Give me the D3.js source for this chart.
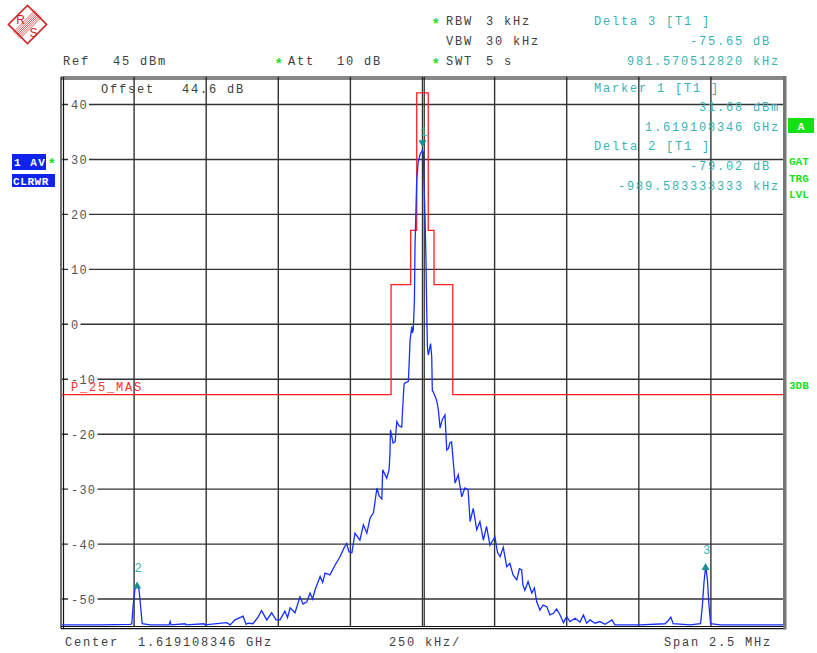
<!DOCTYPE html>
<html>
<head>
<script src="https://d3js.org/d3.v7.min.js"></script>
<style>
  body { margin: 0; background: #fff; }
  text { font-family: "Liberation Mono", "DejaVu Sans Mono", monospace; }
</style>
</head>
<body>
<svg id="chart" width="817" height="653"></svg>
<script>
// trace: frequency offset from center (kHz) and level (dBm)
var traceFreq = [-1250,-1118,-1014,-1008,-1003,-997,-990,-983,-978,-972,-945,-879,-875,-872,-823,-821,-757,-755,-679,-667,-650,-622,-612,-605,-588,-570,-558,-540,-523,-508,-494,-477,-468,-459,-442,-425,-414,-401,-390,-381,-373,-355,-346,-338,-321,-303,-286,-272,-263,-255,-245,-234,-217,-205,-193,-182,-170,-158,-150,-141,-138,-124,-116,-113,-111,-102,-95,-89,-81,-72,-69,-64,-61,-49,-46,-43,-37,-35,-32,-28,-26,-20,-15,-8,0,3,5,9,12,14,17,20,28,32,34,37,49,55,61,68,78,84,90,95,101,113,124,136,147,158,165,176,188,199,211,222,234,251,260,269,280,292,303,314,327,336,344,348,355,366,379,388,396,407,418,431,442,454,465,477,489,500,511,529,546,558,569,581,598,615,633,657,667,754,841,851,861,869,928,964,970,976,982,988,993,999,1032,1250];
var traceLevel = [-54.7,-54.7,-54.6,-54.5,-51.0,-48.2,-47.34,-48.3,-51.0,-54.5,-54.7,-54.7,-54.1,-54.7,-54.5,-54.7,-54.5,-54.7,-54.3,-54.7,-53.8,-53.1,-54.6,-54.4,-54.5,-53.3,-52.1,-53.8,-52.5,-53.8,-53.8,-52.2,-53.4,-51.6,-52.5,-49.6,-50.9,-50.5,-48.9,-50.0,-48.4,-45.9,-47.0,-45.3,-45.6,-43.8,-42.3,-40.7,-39.9,-41.4,-41.6,-38.0,-39.3,-36.5,-38.0,-35.3,-34.3,-29.8,-31.3,-31.8,-26.5,-28.0,-26.5,-23.8,-19.2,-21.6,-21.4,-17.7,-18.5,-18.7,-15.5,-10.9,-10.7,-10.4,-6.8,-2.8,-0.4,-1.6,-1.0,4.4,14.1,26.3,29.5,31.0,31.68,31.2,26.3,19.0,11.7,4.5,-4.1,-5.6,-3.5,-5.9,-12.0,-12.3,-13.8,-15.6,-18.9,-17.4,-16.5,-22.9,-22.6,-21.6,-21.4,-28.9,-27.4,-31.4,-29.8,-30.1,-35.9,-33.5,-37.4,-35.9,-39.3,-36.8,-40.2,-38.7,-41.5,-42.3,-40.6,-44.1,-43.5,-45.6,-46.5,-44.5,-44.7,-47.4,-48.4,-46.8,-48.9,-48.0,-50.5,-52.0,-51.1,-51.4,-52.9,-52.6,-51.8,-52.9,-54.3,-53.2,-54.1,-53.5,-54.2,-52.9,-54.4,-53.8,-54.4,-54.1,-54.6,-53.8,-54.7,-54.7,-54.5,-54.0,-53.3,-54.5,-54.7,-54.5,-51.5,-47.0,-43.97,-46.5,-51.0,-54.5,-54.7,-54.7];

// limit line P_25_MAS (step mask)
var maskFreq  = [-1250,-109,-109,-41,-41,-20,-20,20,20,40,40,105,105,1250];
var maskLevel = [-12.8,-12.8,7.2,7.2,17.1,17.1,42.1,42.1,17.1,17.1,7.2,7.2,-12.8,-12.8];

// markers
var markerIds   = ["1","2","3"];
var markerFreq  = [0,-989.583,981.571];
var markerLevel = [31.68,-47.34,-43.97];

var yTicks = [40,30,20,10,0,-10,-20,-30,-40,-50];
var xGrid  = [-1000,-750,-500,-250,0,250,500,750,1000];

var svg = d3.select("#chart");
var pLeft = 62, pRight = 783, pTop = 77, pBottom = 626.5;

var x = d3.scaleLinear().domain([-1250,1250]).range([pLeft,pRight]);
var y = d3.scaleLinear().domain([-55,45]).range([pBottom,pTop]);

var gray = "#404040", teal = "#3ab3b3", green = "#1ee01e";

// logo
var logo = svg.append("g").attr("transform","translate(27.5,24.5)");
logo.append("rect").attr("x",-13.5).attr("y",-13.5).attr("width",27).attr("height",27)
  .attr("transform","rotate(45)").attr("fill","none").attr("stroke","#d02424").attr("stroke-width",1.6);
for (var i=-3;i<=3;i++){
  logo.append("line").attr("x1",-11+i*1.1).attr("y1",11+i*1.1).attr("x2",11+i*1.1).attr("y2",-11+i*1.1)
    .attr("stroke","#d02424").attr("stroke-width",0.7);
}
logo.append("text").attr("x",-7).attr("y",-1).attr("text-anchor","middle").attr("fill","#d02424")
  .style("font-family","Liberation Sans, sans-serif").style("font-size","12px").text("R");
logo.append("text").attr("x",6).attr("y",12).attr("text-anchor","middle").attr("fill","#d02424")
  .style("font-family","Liberation Sans, sans-serif").style("font-size","12px").text("S");

function txt(xp, yp, s, color, anchor, size, weight){
  return svg.append("text").attr("x",xp).attr("y",yp).attr("fill",color||gray)
    .attr("text-anchor",anchor||"start")
    .style("font-size",(size||12)+"px").style("letter-spacing","1.8px")
    .style("font-weight",weight||"normal").text(s);
}
function star(xp, yp){
  return svg.append("text").attr("x",xp).attr("y",yp).attr("fill",green)
    .style("font-family","Liberation Sans, sans-serif").style("font-size","14px").style("font-weight","bold").text("*");
}

// header
star(433,28); txt(446,25,"RBW"); txt(486,25,"3 kHz");
txt(446,45,"VBW"); txt(486,45,"30 kHz");
star(433,68); txt(446,65,"SWT"); txt(486,65,"5 s");
txt(63,65,"Ref"); txt(113,65,"45 dBm");
star(276,68); txt(288,65,"Att"); txt(337,65,"10 dB");

// marker readouts
txt(594,25,"Delta 3 [T1 ]",teal);
txt(771,45,"-75.65 dB",teal,"end");
txt(780,65,"981.570512820 kHz",teal,"end");

// grid
var grid = svg.append("g");
grid.selectAll(".hg").data(yTicks).enter().append("line")
  .attr("x1",pLeft).attr("x2",pRight).attr("y1",d=>y(d)).attr("y2",d=>y(d))
  .attr("stroke","#333").attr("stroke-width",1.4);
grid.selectAll(".vg").data(xGrid).enter().append("line")
  .attr("x1",d=>x(d)).attr("x2",d=>x(d)).attr("y1",pTop).attr("y2",pBottom)
  .attr("stroke","#333").attr("stroke-width",1.4);
// double centre line
grid.append("line").attr("x1",x(0)+1.8).attr("x2",x(0)+1.8).attr("y1",pTop).attr("y2",pBottom)
  .attr("stroke","#333").attr("stroke-width",1.2);

// frame
function fl(x1,y1,x2,y2,w){ svg.append("line").attr("x1",x1).attr("y1",y1).attr("x2",x2).attr("y2",y2).attr("stroke","#111").attr("stroke-width",w); }
fl(pLeft-1,pTop,pLeft-1,pBottom+2.2,1.2);
fl(pLeft+1.5,pTop,pLeft+1.5,pBottom+2.2,1.2);
fl(pLeft-1,pTop,pRight+2,pTop,1.2);
fl(pLeft-1,pTop+2,pRight+2,pTop+2,1);
fl(pLeft-1,pBottom,pRight+2,pBottom,1.2);
fl(pLeft-1,pBottom+2.2,pRight+2,pBottom+2.2,1.2);
svg.append("rect").attr("x",pRight).attr("y",pTop-1).attr("width",3.5).attr("height",pBottom-pTop+4).attr("fill","#777");

// y labels with gaps in the grid lines
var yl = svg.append("g");
yl.selectAll("rect").data(yTicks).enter().append("rect")
  .attr("x",pLeft+6).attr("y",d=>y(d)-7).attr("width",d=>(String(d).length*8.5)+4).attr("height",13).attr("fill","#fff");
yl.selectAll("text").data(yTicks).enter().append("text")
  .attr("x",pLeft+9).attr("y",d=>y(d)+4.5).attr("fill","#555")
  .style("font-size","12px").style("letter-spacing","1.2px").text(d=>d);

// offset label
txt(101,93,"Offset"); txt(182,93,"44.6 dB");

// limit line
var line = d3.line().x((d,i)=>x(maskFreq[i])).y((d,i)=>y(maskLevel[i]));
svg.append("path").attr("d",line(maskFreq)).attr("fill","none").attr("stroke","#ff2020").attr("stroke-width",1.3);
txt(71,391,"P_25_MAS","#ff3030");

// trace
var tline = d3.line().x((d,i)=>x(traceFreq[i])).y((d,i)=>y(traceLevel[i]));
svg.append("path").attr("d",tline(traceFreq)).attr("fill","none").attr("stroke","#1530ff").attr("stroke-width",1.3);

// markers
markerIds.forEach(function(id,i){
  var mx = x(markerFreq[i]), my = y(markerLevel[i]);
  if (i === 0) {
    svg.append("path").attr("d","M"+(mx-4)+","+(my-10)+"L"+(mx+4)+","+(my-10)+"L"+mx+","+(my-3)+"Z").attr("fill","#178f94");
  } else {
    svg.append("path").attr("d","M"+(mx-4)+","+(my+4)+"L"+(mx+4)+","+(my+4)+"L"+mx+","+(my-3)+"Z").attr("fill","#178f94");
  }
  svg.append("text").attr("x",mx+1).attr("y",i === 0 ? my-14 : my-12).attr("text-anchor","middle").attr("fill",teal)
    .style("font-size","12px").text(id);
});

// readouts inside the plot
txt(594,92,"Marker 1 [T1 ]",teal);
txt(780,111,"31.68 dBm",teal,"end");
txt(780,131,"1.619108346 GHz",teal,"end");
txt(594,150,"Delta 2 [T1 ]",teal);
txt(771,170,"-79.02 dB",teal,"end");
txt(780,190,"-989.583333333 kHz",teal,"end");

// left status boxes
svg.append("rect").attr("x",12).attr("y",154).attr("width",34).attr("height",16).attr("fill","#1022ee");
svg.append("text").attr("x",14).attr("y",166).attr("fill","#fff").style("font-size","11px").style("font-weight","bold").style("letter-spacing","1.5px").text("1 AV");
svg.append("rect").attr("x",12).attr("y",174).attr("width",43).attr("height",13).attr("fill","#1022ee");
svg.append("text").attr("x",13).attr("y",185).attr("fill","#fff").style("font-size","11px").style("font-weight","bold").style("letter-spacing","0.6px").text("CLRWR");
star(49,168);

// right status
svg.append("rect").attr("x",788).attr("y",118).attr("width",26).attr("height",15).attr("fill","#14e014");
svg.append("text").attr("x",801).attr("y",130).attr("text-anchor","middle").attr("fill","#fff").style("font-size","11px").style("font-weight","bold").text("A");
[["GAT",165],["TRG",182],["LVL",198],["3DB",389]].forEach(function(d){
  svg.append("text").attr("x",789).attr("y",d[1]).attr("fill",green).style("font-size","11px").style("font-weight","bold").text(d[0]);
});

// footer
txt(65,646,"Center"); txt(138,646,"1.619108346 GHz");
txt(389,646,"250 kHz/");
txt(664,646,"Span"); txt(709,646,"2.5 MHz");
</script>
</body>
</html>
